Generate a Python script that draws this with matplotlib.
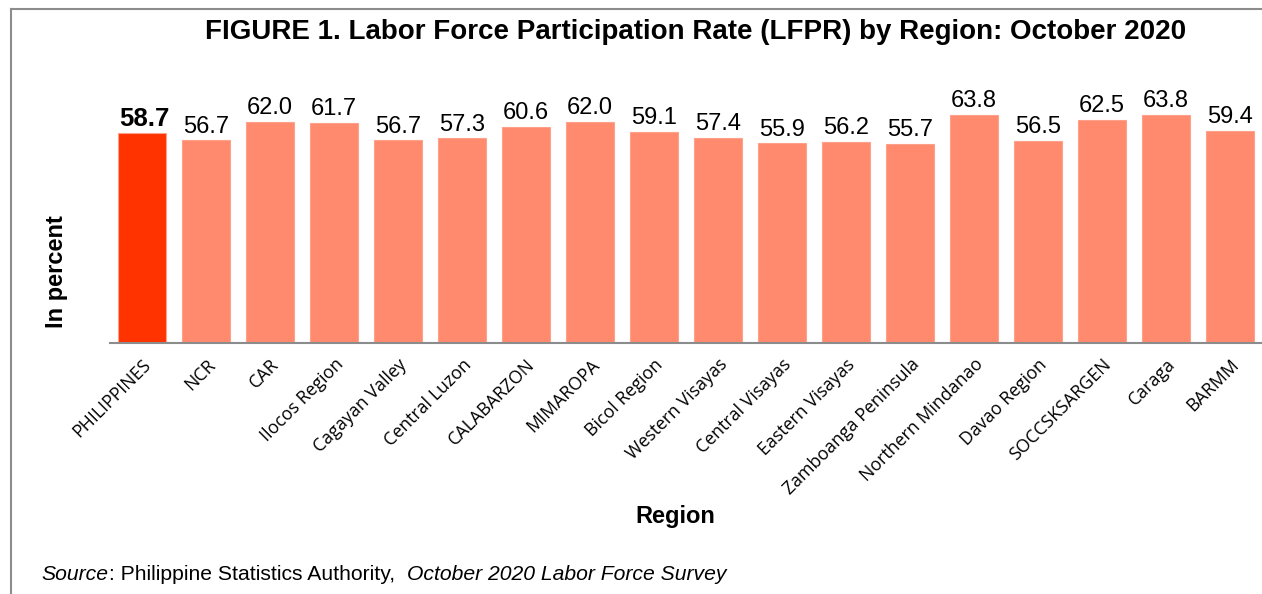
import matplotlib.pyplot as plt

regions = ["PHILIPPINES", "NCR", "CAR", "Ilocos Region", "Cagayan Valley",
           "Central Luzon", "CALABARZON", "MIMAROPA", "Bicol Region",
           "Western Visayas", "Central Visayas", "Eastern Visayas",
           "Zamboanga Peninsula", "Northern Mindanao", "Davao Region",
           "SOCCSKSARGEN", "Caraga", "BARMM"]
lfpr = [58.7, 56.7, 62.0, 61.7, 56.7, 57.3, 60.6, 62.0, 59.1,
        57.4, 55.9, 56.2, 55.7, 63.8, 56.5, 62.5, 63.8, 59.4]

colors = ["#FF3300"] + ["#FF8A6E"] * (len(regions) - 1)

fig = plt.figure(figsize=(12.62, 5.94), dpi=100)
ax = fig.add_axes([0.0872, 0.4226, 0.9128, 0.4209])

x = range(len(regions))
bars = ax.bar(x, lfpr, width=0.76, color=colors, edgecolor="#FFA08A", linewidth=0.8)

for i, (b, v) in enumerate(zip(bars, lfpr)):
    ax.annotate(f"{v:.1f}", (b.get_x() + b.get_width() / 2, v),
                xytext=(2 if i == 0 else 0, 2), textcoords="offset points",
                ha="center", va="bottom", family="Liberation Sans",
                fontsize=18.5 if i == 0 else 17,
                fontweight="bold" if i == 0 else "normal")

ax.set_xlim(-0.5, len(regions) - 0.5)
ax.set_ylim(0, 70)
ax.set_yticks([])
ax.set_xticks(list(x))
ax.set_xticklabels(regions, rotation=45, ha="right", rotation_mode="anchor",
                   fontsize=12.8, family="Open Sans")
ax.tick_params(axis="x", length=0, pad=9)
for s in ["top", "right", "left"]:
    ax.spines[s].set_visible(False)
ax.spines["bottom"].set_color("#8C8C8C")
ax.spines["bottom"].set_linewidth(1.5)

fig.text(0.045, 0.543, "In percent", fontsize=17, fontweight="bold", family="Liberation Sans",
         rotation=90, ha="center", va="center")
fig.text(0.535, 0.131, "Region", fontsize=17, fontweight="bold", family="Liberation Sans",
         ha="center", va="center")

fig.text(0.551, 0.946, "FIGURE 1. Labor Force Participation Rate (LFPR) by Region: October 2020",
         fontsize=20, fontweight="bold", family="Liberation Sans", ha="center", va="center")

# source line built from pieces so italic parts follow on
t1 = fig.text(0.033, 0.024, "Source", fontsize=15.2, style="italic", family="Liberation Sans",
              ha="left", va="baseline")
t2 = ax.annotate(": Philippine Statistics Authority,  ", xy=(1, 0), xycoords=t1,
                 ha="left", va="bottom", fontsize=15.2, family="Liberation Sans",
                 annotation_clip=False)
t3 = ax.annotate("October 2020 Labor Force Survey", xy=(1, 0), xycoords=t2,
                 ha="left", va="bottom", fontsize=15.2, style="italic",
                 family="Liberation Sans", annotation_clip=False)

# outer frame (top and left edges)
fig.add_artist(plt.Line2D([0.0087, 0.0087], [0.0, 0.985], color="#8C8C8C", linewidth=1.5))
fig.add_artist(plt.Line2D([0.0087, 1.0], [0.985, 0.985], color="#8C8C8C", linewidth=1.5))

fig.savefig("out.png", dpi=100)
